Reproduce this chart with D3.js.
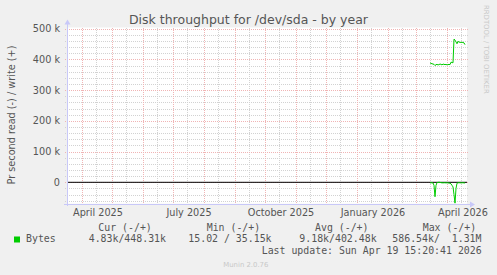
<!DOCTYPE html>
<html><head><meta charset="utf-8">
<script src="https://cdn.jsdelivr.net/npm/d3@7"></script>
<style>
body{margin:0;background:#f0f0f0;}
svg{display:block;}
text{font-family:"DejaVu Sans",sans-serif;}
.mono{font-family:"DejaVu Sans Mono",monospace;}
</style></head><body>
<script>
// ---- data ----
const title = "Disk throughput for /dev/sda - by year";
const yLabel = "Pr second read (-) / write (+)";
const seriesName = "Bytes";
const dataStart = "2026-03-15";
const dataEnd = "2026-04-19";
// write (+) per day, bytes/s
const writeValues = [389000,387000,386000,385000,384000,380000,383000,384000,382000,383000,
  385000,384000,382000,385000,384000,383000,384000,382000,383000,384000,
  383000,391000,390000,389000,466000,463000,457000,451000,459000,456000,
  456000,455000,456000,455000,454000,448000];
// read (-) per day, bytes/s
const readValues = [2000,1500,1500,2000,10000,47000,10000,1000,0,0,
  0,1500,1500,2000,1500,1500,2000,1500,2000,2500,
  3000,5000,10000,15000,40000,68000,20000,3000,1500,1500,
  1500,2000,1500,1500,2000,2000];
const yTicks = [0,100000,200000,300000,400000,500000];
const xLabelMonths = ["2025-04-01","2025-07-01","2025-10-01","2026-01-01","2026-04-01"];
const legendHeaders = ["Cur (-/+)","Min (-/+)","Avg (-/+)","Max (-/+)"];
const legendValues = ["4.83k/448.31k","15.02 / 35.15k","9.18k/402.48k","586.54k/  1.31M"];
const lastUpdate = "Last update: Sun Apr 19 15:20:41 2026";
const watermark = "RRDTOOL / TOBI OETIKER";
const version = "Munin 2.0.76";

// ---- layout ----
const W=497,H=275;
const L=67,R=467,T=27.5,B=203.7;
const svg=d3.select("body").append("svg").attr("width",W).attr("height",H);
svg.append("rect").attr("width",W).attr("height",H).attr("fill","#f0f0f0");

const x=d3.scaleUtc().domain([new Date(Date.UTC(2025,2,17)),new Date(Date.UTC(2026,3,21))]).range([L,R]);
const y=d3.scaleLinear().domain([0,500000]).range([182.3,28.7]);
const yMin=y.invert(B), yMax=y.invert(T);

svg.append("rect").attr("x",L).attr("y",T).attr("width",R-L).attr("height",B-T).attr("fill","#ffffff");

const gridMinor="#d2d2d2", gridMajor="#f0b4b4";
const grid=svg.append("g").attr("shape-rendering","crispEdges");
// minor horizontal
const minorY=d3.range(Math.ceil(yMin/20000)*20000,yMax,20000).filter(v=>v%100000!==0);
grid.selectAll(".hmin").data(minorY).join("line")
  .attr("x1",L-2).attr("x2",R+2).attr("y1",d=>Math.round(y(d))+0.5).attr("y2",d=>Math.round(y(d))+0.5)
  .attr("stroke",gridMinor).attr("stroke-dasharray","1,1");
// minor vertical (mid-month)
const months=d3.utcMonth.range(d3.utcMonth.floor(x.domain()[0]),x.domain()[1]);
const mids=months.map(m=>d3.utcDay.offset(m,14)).filter(d=>d>=x.domain()[0]&&d<=x.domain()[1]);
grid.selectAll(".vmin").data(mids).join("line")
  .attr("x1",d=>Math.round(x(d))+0.5).attr("x2",d=>Math.round(x(d))+0.5).attr("y1",T).attr("y2",B+2)
  .attr("stroke",gridMinor).attr("stroke-dasharray","1,1");
// major horizontal
grid.selectAll(".hmaj").data(yTicks).join("line")
  .attr("x1",L-2).attr("x2",R+2).attr("y1",d=>Math.round(y(d))+0.5).attr("y2",d=>Math.round(y(d))+0.5)
  .attr("stroke",gridMajor).attr("stroke-dasharray","1,1");
// major vertical months
const monthStarts=months.filter(d=>d>=x.domain()[0]);
grid.selectAll(".vmaj").data(monthStarts).join("line")
  .attr("x1",d=>Math.round(x(d))+0.5).attr("x2",d=>Math.round(x(d))+0.5).attr("y1",T).attr("y2",B+2)
  .attr("stroke",gridMajor).attr("stroke-dasharray","1,1");

// y axis labels
const yAxis=d3.axisLeft(y).tickValues(yTicks).tickSize(0).tickPadding(7)
  .tickFormat(v=>v===0?"0":(v/1000)+" k");
const yg=svg.append("g").attr("transform",`translate(${L},0)`).call(yAxis);
yg.select(".domain").remove();
yg.selectAll("text").attr("font-size","9.7px").attr("fill","#555").attr("font-family","DejaVu Sans");

// x axis labels (centered mid-month)
const labelDates=xLabelMonths.map(s=>new Date(s+"T00:00:00Z"));
const xAxis=d3.axisBottom(x).tickValues(labelDates.map(d=>d3.utcHour.offset(d,15*24+12))).tickSize(0).tickPadding(5)
  .tickFormat(d=>d3.utcFormat("%B %Y")(d));
const xg=svg.append("g").attr("transform",`translate(0,${B})`).call(xAxis);
xg.select(".domain").remove();
xg.selectAll("text").attr("font-size","9.7px").attr("fill","#555").attr("font-family","DejaVu Sans");

// data
const dates=d3.utcDay.range(new Date(dataStart+"T00:00:00Z"),d3.utcDay.offset(new Date(dataEnd+"T00:00:00Z"),1));
const wData=dates.map((d,i)=>({d,v:writeValues[i]}));
const rData=dates.map((d,i)=>({d,v:-readValues[i]}));
const line=d3.line().x(p=>x(p.d)).y(p=>y(p.v));
svg.append("clipPath").attr("id","pc").append("rect").attr("x",L).attr("y",T).attr("width",R-L).attr("height",B-T);
// zero rule
svg.append("line").attr("x1",L).attr("x2",R).attr("y1",y(0)).attr("y2",y(0)).attr("stroke","#000").attr("stroke-width",1);
svg.append("path").datum(rData).attr("d",line).attr("fill","none").attr("stroke","#00cc00").attr("stroke-width",1).attr("clip-path","url(#pc)");
svg.append("path").datum(wData).attr("d",line).attr("fill","none").attr("stroke","#00cc00").attr("stroke-width",1).attr("clip-path","url(#pc)");

// axes lines + arrows
const axc="#c8c8f8";
svg.append("line").attr("x1",L+0.5).attr("x2",L+0.5).attr("y1",B+2).attr("y2",T-4).attr("stroke",axc).attr("shape-rendering","crispEdges");
svg.append("line").attr("x1",L-3).attr("x2",R+4).attr("y1",Math.round(B)+0.5).attr("y2",Math.round(B)+0.5).attr("stroke",axc).attr("shape-rendering","crispEdges");
svg.append("path").attr("d",`M${L-2.5},${T-3} L${L+3.5},${T-3} L${L+0.5},${T-8} Z`).attr("fill",axc);
svg.append("path").attr("d",`M${R+3},${Math.round(B)-2.5} L${R+3},${Math.round(B)+3.5} L${R+8},${Math.round(B)+0.5} Z`).attr("fill",axc);

// title
svg.append("text").attr("x",248.5).attr("y",24).attr("text-anchor","middle").attr("font-size","12.5px").attr("fill","#555").text(title);
// y label
svg.append("text").attr("transform","translate(14.5,115) rotate(-90)").attr("text-anchor","middle").attr("font-size","9.7px").attr("fill","#555").text(yLabel);
// watermark
svg.append("text").attr("transform","translate(484,5) rotate(90)").attr("text-anchor","start").attr("font-size","6.9px").attr("fill","#c8c8c8").text(watermark);

// legend
svg.append("rect").attr("x",14).attr("y",236.5).attr("width",6).attr("height",6).attr("fill","#00cc00");
const lg=svg.append("g").attr("class","mono").attr("font-size","9.9px").attr("fill","#555");
lg.append("text").attr("x",26).attr("y",242).text(seriesName).attr("class","mono");
const hx=[98.3,206.7,315,422.7];
lg.selectAll(".hd").data(legendHeaders).join("text").attr("class","mono").attr("x",(d,i)=>hx[i]).attr("y",230.7).style("white-space","pre").text(d=>d);
const vx=[88.7,188.3,299.3,392.3];
lg.selectAll(".vl").data(legendValues).join("text").attr("class","mono").attr("x",(d,i)=>vx[i]).attr("y",242).style("white-space","pre").text(d=>d);
lg.append("text").attr("class","mono").attr("x",261.7).attr("y",254.3).style("white-space","pre").text(lastUpdate);
svg.append("text").attr("x",223.3).attr("y",266.7).attr("font-size","6.9px").attr("fill","#c8c8c8").text(version);
</script>
</body></html>
